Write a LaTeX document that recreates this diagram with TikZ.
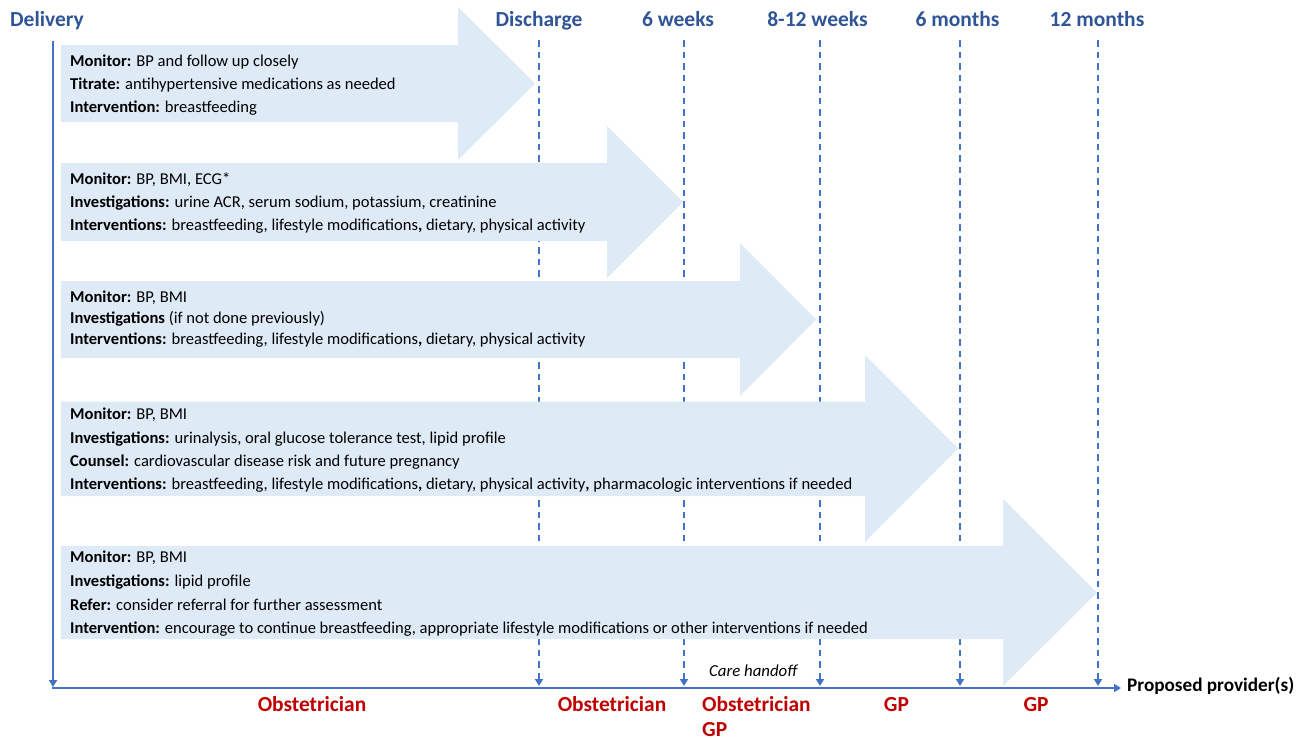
\documentclass[tikz,border=0pt]{standalone}
\usepackage{fontspec}
\setmainfont{Carlito}
\usetikzlibrary{arrows.meta}
\definecolor{hdrblue}{HTML}{2F5597}
\definecolor{lineblue}{HTML}{4472C4}
\definecolor{arrowfill}{HTML}{DEEAF6}
\definecolor{provred}{HTML}{C00000}
\newcommand{\bigarr}[8]{\fill[bigarrow] (61,#1) -- (#3,#1) -- (#3,#4) -- (#6,#7) -- (#3,#5) -- (#3,#2) -- (61,#2) -- cycle;}
\begin{document}
\begin{tikzpicture}[x=1pt,y=-1pt,
  body/.style={anchor=base west, inner sep=0pt, font=\fontsize{16.55}{19}\selectfont},
  hdr/.style={anchor=base, inner sep=0pt, text=hdrblue, font=\fontsize{21.5}{25}\selectfont\bfseries},
  prov/.style={anchor=base, inner sep=0pt, text=provred, font=\fontsize{21.4}{25}\selectfont\bfseries},
  provl/.style={prov, anchor=base west},
  dashline/.style={lineblue, line width=2pt, dash pattern=on 6.5pt off 5pt, -{Triangle[width=8pt,length=7pt]}},
  solidline/.style={lineblue, line width=2pt, -{Triangle[width=8pt,length=7pt]}},
  bigarrow/.style={fill=arrowfill, draw=none}]
\useasboundingbox (0,0) rectangle (1306,740);

% timeline coordinates
\coordinate (dtop) at (53,41);
\coordinate (dbot) at (53,687);
\coordinate (axL) at (52,688);
\coordinate (axR) at (1121,688);
\foreach \n/\x in {dis/539,wk6/684,wk12/820,mo6/960,mo12/1098}{
  \coordinate (\n top) at (\x,40);
  \coordinate (\n bot) at (\x,686);
}

% dashed lines (under the arrows)
\foreach \n in {dis,wk6,wk12,mo6,mo12}{
  \draw[dashline] (\n top) -- (\n bot);
}

% big arrows
\bigarr{45}{122}{458}{7}{160}{535}{83.5}{}
\bigarr{163}{241}{607}{126}{278}{683}{202}{}
\bigarr{281}{358}{740}{243}{396}{816}{319.5}{}
\bigarr{401.5}{496}{865}{355}{542}{958}{448.5}{}
\bigarr{546}{639}{1003}{499}{686}{1097}{592.5}{}

% solid axes
\draw[solidline] (dtop) -- (dbot);
\draw[solidline] (axL) -- (axR);

% headers
\node[hdr] (hdel) at (47,26.5) {Delivery};
\node[hdr] (hdis) at (539,26.5) {Discharge};
\node[hdr] (hwk6) at (678,26.5) {6 weeks};
\node[hdr] (hwk12) at (817.5,26.5) {8-12 weeks};
\node[hdr] (hmo6) at (957.5,26.5) {6 months};
\node[hdr] (hmo12) at (1097,26.5) {12 months};

% arrow 1 text
\node[body] (a1l1) at (70,66) {\textbf{Monitor:} BP and follow up closely};
\node[body] (a1l2) at (70,89.3) {\textbf{Titrate:} antihypertensive medications as needed};
\node[body] (a1l3) at (70,112.7) {\textbf{Intervention:} breastfeeding};

% arrow 2 text
\node[body] (a2l1) at (70,184) {\textbf{Monitor:} BP, BMI, ECG*};
\node[body] (a2l2) at (70,207.3) {\textbf{Investigations:} urine ACR, serum sodium, potassium, creatinine};
\node[body] (a2l3) at (70,230.7) {\textbf{Interventions:} breastfeeding, lifestyle modifications\textbf{,} dietary, physical activity};

% arrow 3 text
\node[body] (a3l1) at (70,302) {\textbf{Monitor:} BP, BMI};
\node[body] (a3l2) at (70,323) {\textbf{Investigations} (if not done previously)};
\node[body] (a3l3) at (70,344) {\textbf{Interventions:} breastfeeding, lifestyle modifications\textbf{,} dietary, physical activity};

% arrow 4 text
\node[body] (a4l1) at (70,419.3) {\textbf{Monitor:} BP, BMI};
\node[body] (a4l2) at (70,443.3) {\textbf{Investigations:} urinalysis, oral glucose tolerance test, lipid profile};
\node[body] (a4l3) at (70,466.3) {\textbf{Counsel:} cardiovascular disease risk and future pregnancy};
\node[body] (a4l4) at (70,489.3) {\textbf{Interventions:} breastfeeding, lifestyle modifications\textbf{,} dietary, physical activity\textbf{,} pharmacologic interventions if needed};

% arrow 5 text
\node[body] (a5l1) at (70,562.7) {\textbf{Monitor:} BP, BMI};
\node[body] (a5l2) at (70,586.7) {\textbf{Investigations:} lipid profile};
\node[body] (a5l3) at (70,610) {\textbf{Refer:} consider referral for further assessment};
\node[body] (a5l4) at (70,633.3) {\textbf{Intervention:} encourage to continue breastfeeding, appropriate lifestyle modifications or other interventions if needed};

% care handoff
\node[anchor=base west, inner sep=0pt, font=\fontsize{16.8}{19}\selectfont\itshape] (hand) at (709,676.7) {Care handoff};

% proposed providers
\node[anchor=base west, inner sep=0pt, font=\fontsize{19.2}{23}\selectfont\bfseries] (pp) at (1127,691.7) {Proposed provider(s)};
\node[prov] (p1) at (312,711.7) {Obstetrician};
\node[prov] (p2) at (612,711.7) {Obstetrician};
\node[provl] (p3) at (702,711.7) {Obstetrician};
\node[provl] (p3b) at (702,736.7) {GP};
\node[prov] (p4) at (896.5,711.7) {GP};
\node[prov] (p5) at (1036,711.7) {GP};
\end{tikzpicture}
\end{document}
